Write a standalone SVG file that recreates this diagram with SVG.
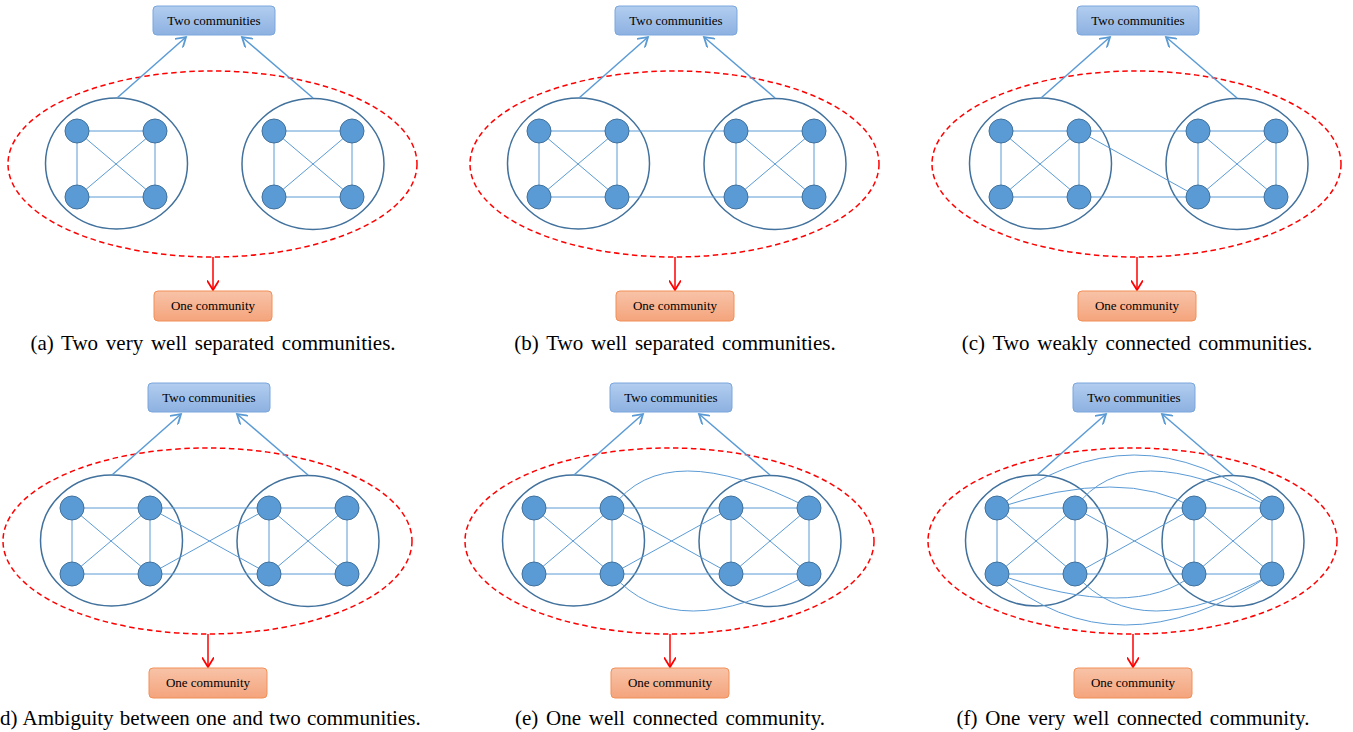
<svg xmlns="http://www.w3.org/2000/svg" width="1353" height="732" viewBox="0 0 1353 732">
<style>
.bg{fill:#ffffff}
.dash{fill:none;stroke:#ff0000;stroke-width:1.5;stroke-dasharray:5.5,3.5}
.comm{fill:none;stroke:#41719c;stroke-width:1.5}
.e{fill:none;stroke:#5b9bd5;stroke-width:1}
.n{fill:#5b9bd5;stroke:#41719c;stroke-width:1}
.up{fill:none;stroke:#5b9bd5;stroke-width:1.5;marker-end:url(#ab)}
.down{fill:none;stroke:#ff0000;stroke-width:1.5;marker-end:url(#ar)}
.two{fill:url(#gb);stroke:#7aa6dc;stroke-width:1}
.one{fill:url(#go);stroke:#f29058;stroke-width:1}
.bt{font-family:"Liberation Serif","Times New Roman",serif;font-size:13px;fill:#000;text-anchor:middle}
.cap{font-family:"Liberation Serif","Times New Roman",serif;font-size:21px;fill:#000;word-spacing:2.5px}
</style>
<defs>
<linearGradient id="gb" x1="0" y1="0" x2="0" y2="1"><stop offset="0" stop-color="#b2cdef"/><stop offset="1" stop-color="#8db1e1"/></linearGradient>
<linearGradient id="go" x1="0" y1="0" x2="0" y2="1"><stop offset="0" stop-color="#f8c3a8"/><stop offset="1" stop-color="#f4a47c"/></linearGradient>
<marker id="ab" markerUnits="userSpaceOnUse" markerWidth="12" markerHeight="12" refX="8" refY="5" orient="auto" viewBox="0 0 10 10"><path d="M0,0 L8,5 L0,10" fill="none" stroke="#5b9bd5" stroke-width="1.5"/></marker>
<marker id="ar" markerUnits="userSpaceOnUse" markerWidth="12" markerHeight="12" refX="8" refY="5" orient="auto" viewBox="0 0 10 10"><path d="M0,0 L8,5 L0,10" fill="none" stroke="#ff0000" stroke-width="1.5"/></marker>
</defs>
<rect class="bg" x="0" y="0" width="1353" height="732"/>

<!-- Panel a -->
<g id="panel-a" transform="translate(0,0)">
<ellipse class="dash" cx="212.5" cy="164" rx="204.5" ry="93"/>
<g id="a-c1"><ellipse class="comm" cx="116.5" cy="163.5" rx="71" ry="65.5"/></g>
<g id="a-c2"><ellipse class="comm" cx="313" cy="164" rx="71" ry="65.5"/></g>
<g id="a-edges">
<path class="e" d="M77,131H155M77,197H155M77,131V197M155,131V197M77,131L155,197M155,131L77,197"/>
<path class="e" d="M274,131H352M274,197H352M274,131V197M352,131V197M274,131L352,197M352,131L274,197"/>
<line class="up" x1="117" y1="98" x2="186" y2="37"/>
<line class="up" x1="313" y1="98" x2="242" y2="37"/>
<line class="down" x1="213" y1="257" x2="213" y2="290"/>
</g>
<g id="a-n1"><circle class="n" cx="77" cy="131" r="12"/></g>
<g id="a-n2"><circle class="n" cx="155" cy="131" r="12"/></g>
<g id="a-n3"><circle class="n" cx="77" cy="197" r="12"/></g>
<g id="a-n4"><circle class="n" cx="155" cy="197" r="12"/></g>
<g id="a-n5"><circle class="n" cx="274" cy="131" r="12"/></g>
<g id="a-n6"><circle class="n" cx="352" cy="131" r="12"/></g>
<g id="a-n7"><circle class="n" cx="274" cy="197" r="12"/></g>
<g id="a-n8"><circle class="n" cx="352" cy="197" r="12"/></g>
<g id="a-two"><rect class="two" x="153" y="6" width="122" height="29" rx="4"/><text class="bt" x="214" y="24.5">Two communities</text></g>
<g id="a-one"><rect class="one" x="154" y="291" width="118" height="30" rx="4"/><text class="bt" x="213" y="310">One community</text></g>
</g>

<!-- Panel b -->
<g id="panel-b" transform="translate(462,0)">
<ellipse class="dash" cx="212.5" cy="164" rx="204.5" ry="93"/>
<g id="b-c1"><ellipse class="comm" cx="116.5" cy="163.5" rx="71" ry="65.5"/></g>
<g id="b-c2"><ellipse class="comm" cx="313" cy="164" rx="71" ry="65.5"/></g>
<g id="b-edges">
<path class="e" d="M77,131H155M77,197H155M77,131V197M155,131V197M77,131L155,197M155,131L77,197"/>
<path class="e" d="M274,131H352M274,197H352M274,131V197M352,131V197M274,131L352,197M352,131L274,197"/>
<path class="e" d="M155,131H274M155,197H274"/>
<line class="up" x1="117" y1="98" x2="186" y2="37"/>
<line class="up" x1="313" y1="98" x2="242" y2="37"/>
<line class="down" x1="213" y1="257" x2="213" y2="290"/>
</g>
<g id="b-n1"><circle class="n" cx="77" cy="131" r="12"/></g>
<g id="b-n2"><circle class="n" cx="155" cy="131" r="12"/></g>
<g id="b-n3"><circle class="n" cx="77" cy="197" r="12"/></g>
<g id="b-n4"><circle class="n" cx="155" cy="197" r="12"/></g>
<g id="b-n5"><circle class="n" cx="274" cy="131" r="12"/></g>
<g id="b-n6"><circle class="n" cx="352" cy="131" r="12"/></g>
<g id="b-n7"><circle class="n" cx="274" cy="197" r="12"/></g>
<g id="b-n8"><circle class="n" cx="352" cy="197" r="12"/></g>
<g id="b-two"><rect class="two" x="153" y="6" width="122" height="29" rx="4"/><text class="bt" x="214" y="24.5">Two communities</text></g>
<g id="b-one"><rect class="one" x="154" y="291" width="118" height="30" rx="4"/><text class="bt" x="213" y="310">One community</text></g>
</g>

<!-- Panel c -->
<g id="panel-c" transform="translate(924,0)">
<ellipse class="dash" cx="212.5" cy="164" rx="204.5" ry="93"/>
<g id="c-c1"><ellipse class="comm" cx="116.5" cy="163.5" rx="71" ry="65.5"/></g>
<g id="c-c2"><ellipse class="comm" cx="313" cy="164" rx="71" ry="65.5"/></g>
<g id="c-edges">
<path class="e" d="M77,131H155M77,197H155M77,131V197M155,131V197M77,131L155,197M155,131L77,197"/>
<path class="e" d="M274,131H352M274,197H352M274,131V197M352,131V197M274,131L352,197M352,131L274,197"/>
<path class="e" d="M155,131H274M155,197H274M155,131L274,197"/>
<line class="up" x1="117" y1="98" x2="186" y2="37"/>
<line class="up" x1="313" y1="98" x2="242" y2="37"/>
<line class="down" x1="213" y1="257" x2="213" y2="290"/>
</g>
<g id="c-n1"><circle class="n" cx="77" cy="131" r="12"/></g>
<g id="c-n2"><circle class="n" cx="155" cy="131" r="12"/></g>
<g id="c-n3"><circle class="n" cx="77" cy="197" r="12"/></g>
<g id="c-n4"><circle class="n" cx="155" cy="197" r="12"/></g>
<g id="c-n5"><circle class="n" cx="274" cy="131" r="12"/></g>
<g id="c-n6"><circle class="n" cx="352" cy="131" r="12"/></g>
<g id="c-n7"><circle class="n" cx="274" cy="197" r="12"/></g>
<g id="c-n8"><circle class="n" cx="352" cy="197" r="12"/></g>
<g id="c-two"><rect class="two" x="153" y="6" width="122" height="29" rx="4"/><text class="bt" x="214" y="24.5">Two communities</text></g>
<g id="c-one"><rect class="one" x="154" y="291" width="118" height="30" rx="4"/><text class="bt" x="213" y="310">One community</text></g>
</g>

<!-- Panel d -->
<g id="panel-d" transform="translate(-5,377)">
<ellipse class="dash" cx="212.5" cy="164" rx="204.5" ry="93"/>
<g id="d-c1"><ellipse class="comm" cx="116.5" cy="163.5" rx="71" ry="65.5"/></g>
<g id="d-c2"><ellipse class="comm" cx="313" cy="164" rx="71" ry="65.5"/></g>
<g id="d-edges">
<path class="e" d="M77,131H155M77,197H155M77,131V197M155,131V197M77,131L155,197M155,131L77,197"/>
<path class="e" d="M274,131H352M274,197H352M274,131V197M352,131V197M274,131L352,197M352,131L274,197"/>
<path class="e" d="M155,131H274M155,197H274M155,131L274,197M155,197L274,131"/>
<line class="up" x1="117" y1="98" x2="186" y2="37"/>
<line class="up" x1="313" y1="98" x2="242" y2="37"/>
<line class="down" x1="213" y1="257" x2="213" y2="290"/>
</g>
<g id="d-n1"><circle class="n" cx="77" cy="131" r="12"/></g>
<g id="d-n2"><circle class="n" cx="155" cy="131" r="12"/></g>
<g id="d-n3"><circle class="n" cx="77" cy="197" r="12"/></g>
<g id="d-n4"><circle class="n" cx="155" cy="197" r="12"/></g>
<g id="d-n5"><circle class="n" cx="274" cy="131" r="12"/></g>
<g id="d-n6"><circle class="n" cx="352" cy="131" r="12"/></g>
<g id="d-n7"><circle class="n" cx="274" cy="197" r="12"/></g>
<g id="d-n8"><circle class="n" cx="352" cy="197" r="12"/></g>
<g id="d-two"><rect class="two" x="153" y="6" width="122" height="29" rx="4"/><text class="bt" x="214" y="24.5">Two communities</text></g>
<g id="d-one"><rect class="one" x="154" y="291" width="118" height="30" rx="4"/><text class="bt" x="213" y="310">One community</text></g>
</g>

<!-- Panel e -->
<g id="panel-e" transform="translate(457,377)">
<ellipse class="dash" cx="212.5" cy="164" rx="204.5" ry="93"/>
<g id="e-c1"><ellipse class="comm" cx="116.5" cy="163.5" rx="71" ry="65.5"/></g>
<g id="e-c2"><ellipse class="comm" cx="313" cy="164" rx="71" ry="65.5"/></g>
<g id="e-edges">
<path class="e" d="M77,131H155M77,197H155M77,131V197M155,131V197M77,131L155,197M155,131L77,197"/>
<path class="e" d="M274,131H352M274,197H352M274,131V197M352,131V197M274,131L352,197M352,131L274,197"/>
<path class="e" d="M155,131H274M155,197H274M155,131L274,197M155,197L274,131"/>
<path class="e" d="M155,131Q208,57 352,131M155,197Q219,271 352,197"/>
<line class="up" x1="117" y1="98" x2="186" y2="37"/>
<line class="up" x1="313" y1="98" x2="242" y2="37"/>
<line class="down" x1="213" y1="257" x2="213" y2="290"/>
</g>
<g id="e-n1"><circle class="n" cx="77" cy="131" r="12"/></g>
<g id="e-n2"><circle class="n" cx="155" cy="131" r="12"/></g>
<g id="e-n3"><circle class="n" cx="77" cy="197" r="12"/></g>
<g id="e-n4"><circle class="n" cx="155" cy="197" r="12"/></g>
<g id="e-n5"><circle class="n" cx="274" cy="131" r="12"/></g>
<g id="e-n6"><circle class="n" cx="352" cy="131" r="12"/></g>
<g id="e-n7"><circle class="n" cx="274" cy="197" r="12"/></g>
<g id="e-n8"><circle class="n" cx="352" cy="197" r="12"/></g>
<g id="e-two"><rect class="two" x="153" y="6" width="122" height="29" rx="4"/><text class="bt" x="214" y="24.5">Two communities</text></g>
<g id="e-one"><rect class="one" x="154" y="291" width="118" height="30" rx="4"/><text class="bt" x="213" y="310">One community</text></g>
</g>

<!-- Panel f -->
<g id="panel-f" transform="translate(920,377)">
<ellipse class="dash" cx="212.5" cy="164" rx="204.5" ry="93"/>
<g id="f-c1"><ellipse class="comm" cx="116.5" cy="163.5" rx="71" ry="65.5"/></g>
<g id="f-c2"><ellipse class="comm" cx="313" cy="164" rx="71" ry="65.5"/></g>
<g id="f-edges">
<path class="e" d="M77,131H155M77,197H155M77,131V197M155,131V197M77,131L155,197M155,131L77,197"/>
<path class="e" d="M274,131H352M274,197H352M274,131V197M352,131V197M274,131L352,197M352,131L274,197"/>
<path class="e" d="M155,131H274M155,197H274M155,131L274,197M155,197L274,131"/>
<path class="e" d="M155,131Q208,57 352,131M155,197Q219,271 352,197"/>
<path class="e" d="M77,131Q214,25 352,131M77,131Q204,89 274,131M77,197Q215,245 274,197M77,197Q196,299 352,197"/>
<line class="up" x1="117" y1="98" x2="186" y2="37"/>
<line class="up" x1="313" y1="98" x2="242" y2="37"/>
<line class="down" x1="213" y1="257" x2="213" y2="290"/>
</g>
<g id="f-n1"><circle class="n" cx="77" cy="131" r="12"/></g>
<g id="f-n2"><circle class="n" cx="155" cy="131" r="12"/></g>
<g id="f-n3"><circle class="n" cx="77" cy="197" r="12"/></g>
<g id="f-n4"><circle class="n" cx="155" cy="197" r="12"/></g>
<g id="f-n5"><circle class="n" cx="274" cy="131" r="12"/></g>
<g id="f-n6"><circle class="n" cx="352" cy="131" r="12"/></g>
<g id="f-n7"><circle class="n" cx="274" cy="197" r="12"/></g>
<g id="f-n8"><circle class="n" cx="352" cy="197" r="12"/></g>
<g id="f-two"><rect class="two" x="153" y="6" width="122" height="29" rx="4"/><text class="bt" x="214" y="24.5">Two communities</text></g>
<g id="f-one"><rect class="one" x="154" y="291" width="118" height="30" rx="4"/><text class="bt" x="213" y="310">One community</text></g>
</g>

<g id="captions">
<text class="cap" x="213" y="350" text-anchor="middle">(a) Two very well separated communities.</text>
<text class="cap" x="675" y="350" text-anchor="middle">(b) Two well separated communities.</text>
<text class="cap" x="1137" y="350" text-anchor="middle">(c) Two weakly connected communities.</text>
<text class="cap" x="0" y="725" style="word-spacing:1px">d) Ambiguity between one and two communities.</text>
<text class="cap" x="670" y="725" text-anchor="middle">(e) One well connected community.</text>
<text class="cap" x="1133" y="725" text-anchor="middle">(f) One very well connected community.</text>
</g>
</svg>
